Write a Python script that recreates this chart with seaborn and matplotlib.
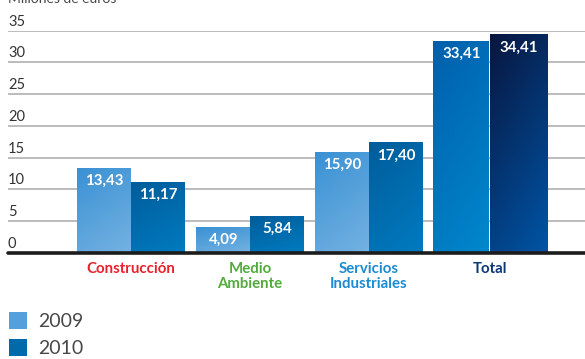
import numpy as np
import pandas as pd
import matplotlib
matplotlib.use("Agg")
import matplotlib.pyplot as plt
import matplotlib.transforms as mtransforms
from matplotlib.colors import to_rgb
import seaborn as sns

# Data (millions of euros)
categories = ["Construcción", "Medio\nAmbiente", "Servicios\nIndustriales", "Total"]
cat_colors = ["#e8212b", "#52aa3d", "#1a8bd2", "#0d3675"]
years = ["2009", "2010"]
v2009 = [13.43, 4.09, 15.90, 33.41]
v2010 = [11.17, 5.84, 17.40, 34.41]
yticks = [0, 5, 10, 15, 20, 25, 30, 35]

df = pd.DataFrame({
    "categoria": categories * 2,
    "año": [years[0]] * 4 + [years[1]] * 4,
    "valor": v2009 + v2010,
})

sns.set_theme(style="white")
plt.rcParams["font.family"] = ["Lato", "DejaVu Sans"]

W, H = 585, 359
fig = plt.figure(figsize=(W / 100, H / 100), dpi=100)
ax = fig.add_axes([8 / W, 1 - 253 / H, 1 - 8 / W, (253 - 30.7) / H])

palette = {"2009": "#559fda", "2010": "#006aab"}
sns.barplot(data=df, x="categoria", y="valor", hue="año", order=categories,
            hue_order=years, palette=palette, width=0.9, saturation=1,
            edgecolor="none", linewidth=0, ax=ax)

ax.set_xlim(-1.034, 3.815)
ax.set_ylim(0, 35)

# Gradient fills: (top-left colour, bottom-right colour)
grad = {
    "2009": ("#3a91d4", "#74b2e2"),
    "2010": ("#005d9b", "#007bc0"),
    "T2009": ("#005fad", "#0088cc"),
    "T2010": ("#08163f", "#0055a6"),
}

def gradient_img(c_top, c_bot, n=64):
    t = np.linspace(0, 1, n)
    tt = (t[:, None] * 0.7 + t[None, :] * 0.3)
    a, b = np.array(to_rgb(c_top)), np.array(to_rgb(c_bot))
    return a[None, None, :] * (1 - tt[..., None]) + b[None, None, :] * tt[..., None]

bars = ax.patches[:8]
for i, p in enumerate(bars):
    year = years[i // 4]
    ci = i % 4
    key = ("T" + year) if ci == 3 else year
    if ci == 3:
        # Total bars slightly wider with a thin gap between them
        if year == "2009":
            p.set_x(p.get_x() - 0.01)
            p.set_width(0.47)
        else:
            p.set_x(p.get_x() + 0.02)
            p.set_width(0.48)
    x0, w = p.get_x(), p.get_width()
    h = p.get_height()
    img = gradient_img(*grad[key])
    im = ax.imshow(img, extent=(x0, x0 + w, 0, h), origin="upper",
                   aspect="auto", interpolation="bilinear", zorder=2)
    im.set_clip_path(p)
    p.set_facecolor(grad[key][0])

ax.set_xlim(-1.034, 3.815)
ax.set_ylim(0, 35)

# Value labels inside the bars
vals = v2009 + v2010
for i, p in enumerate(bars):
    cx = p.get_x() + p.get_width() / 2
    ax.annotate(f"{vals[i]:.2f}".replace(".", ","), (cx, p.get_height()),
                xytext=(0, -13), textcoords="offset pixels",
                ha="center", va="center", color="white", fontsize=10.8,
                fontweight="bold", zorder=5)

# Grid and baseline
for v in yticks[1:]:
    ax.axhline(v, color="#a9a9a9", lw=1.1, zorder=0)
ax.axhline(0, color="#1c1c1c", lw=2.6, zorder=4, clip_on=False)

for s in ax.spines.values():
    s.set_visible(False)
ax.set_xticks([])
ax.set_yticks([])
ax.set_xlabel("")
ax.set_ylabel("")

# Y labels sitting above each gridline
trans = mtransforms.blended_transform_factory(ax.transAxes, ax.transData)
for v in yticks:
    ax.annotate(str(v), (0, v), xycoords=trans, xytext=(0, 2),
                textcoords="offset pixels", ha="left", va="bottom",
                color="#333333", fontsize=10.5)

# Category labels
for i, (c, col) in enumerate(zip(categories, cat_colors)):
    xpos = i + (0.02 if i == 3 else 0)
    ax.annotate(c, (xpos, 0), xytext=(0, -9), textcoords="offset pixels",
                ha="center", va="top", color=col, fontsize=10.8,
                fontweight="bold", linespacing=1.05, annotation_clip=False)

# Axis title partly above the canvas
fig.text(8 / W, 1 + 1 / H, "Millones de euros", ha="left", va="center",
         color="#444444", fontsize=10)

# Legend
sns.move_legend(ax, "upper left", bbox_to_anchor=(9 / W, 1 - 312 / H),
                bbox_transform=fig.transFigure, frameon=False, title=None,
                fontsize=14, handlelength=0.93, handleheight=0.93,
                handletextpad=0.55, labelspacing=0.47, borderpad=0,
                borderaxespad=0)
leg = ax.get_legend()
for t in leg.get_texts():
    t.set_color("#484848")
for hnd in leg.legend_handles:
    hnd.set_edgecolor("none")
leg.set_bbox_to_anchor((9 / W, 1 - 312 / H), transform=fig.transFigure)

fig.savefig("out.png", dpi=100)
